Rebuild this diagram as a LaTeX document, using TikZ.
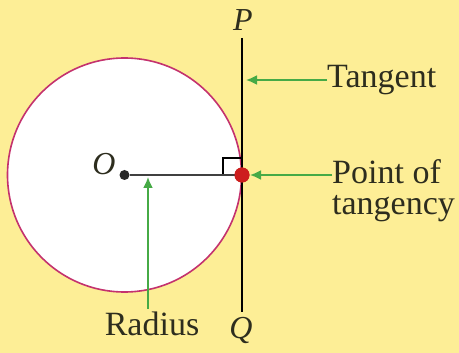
\documentclass[tikz,border=0pt]{standalone}
\usepackage{fontspec}
\setmainfont{Liberation Serif}
\usetikzlibrary{arrows.meta}
\definecolor{bg}{RGB}{253,238,150}
\definecolor{ring}{RGB}{196,50,110}
\definecolor{dotred}{RGB}{205,30,30}
\definecolor{arrgreen}{RGB}{70,170,70}
\definecolor{txt}{RGB}{45,45,30}
\tikzset{
  lbl/.style={font=\fontsize{34}{38}\selectfont, text=txt, inner sep=0pt},
  ital/.style={font=\fontsize{32}{36}\selectfont\itshape, text=txt, inner sep=0pt},
  pointer/.style={draw=arrgreen, line width=1.8pt, -{Latex[length=11pt,width=10pt]}},
}
\begin{document}
\begin{tikzpicture}[x=1pt,y=-1pt]
\fill[bg] (0,0) rectangle (459,353);
\useasboundingbox (0,0) rectangle (459,353);
% circle
\draw[ring, line width=1.6pt, fill=white] (124.5,175) circle (117);
% tangent line
\coordinate (ptop) at (242,38);
\coordinate (pbot) at (242,312);
\draw[black, line width=2pt] (ptop) -- (pbot);
% right-angle mark
\draw[black, line width=1.3pt] (242,158) -- (223,158) -- (223,175);
% points
\node[circle, fill=black!85, minimum size=10pt, inner sep=0pt] (O) at (124.5,175) {};
\node[circle, fill=dotred, minimum size=15pt, inner sep=0pt] (T) at (242,175) {};
\draw[black!75, line width=2.2pt] (O) -- (T.center);
\node[circle, fill=dotred, minimum size=15pt, inner sep=0pt] at (242,175) {};
% labels
\node[ital] (Olbl) at (104,164) {O};
\node[ital] (Plbl) at (243,20) {P};
\node[ital] (Qlbl) at (241,330) {Q};
\node[lbl, anchor=west] (tan) at (327,80) {Tangent};
\node[lbl, anchor=west] (pt) at (332,172) {Point of};
\node[lbl, anchor=west] (tg) at (332,209) {tangency};
\node[lbl] (rad) at (152,324) {Radius};
% pointers
\coordinate (tanhit) at (246,80);
\coordinate (pthit) at (250,175);
\coordinate (radhit) at (148,177);
\coordinate (radfoot) at (148,309);
\draw[pointer] (tan.west) -- (tanhit);
\draw[pointer] (pt.west |- pthit) -- (pthit);
\draw[pointer] (radfoot) -- (radhit);
\end{tikzpicture}
\end{document}
